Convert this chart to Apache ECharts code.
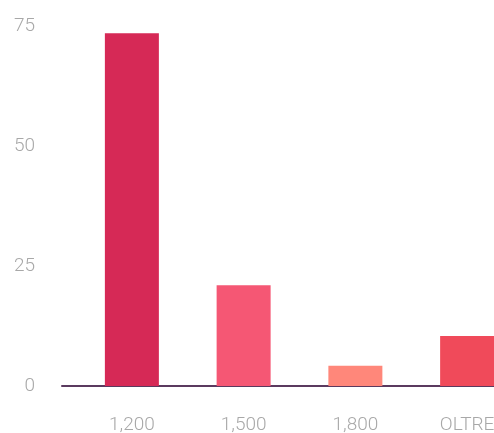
<!DOCTYPE html>
<html>
<head>
<meta charset="utf-8">
<script src="https://cdn.jsdelivr.net/npm/echarts@6/dist/echarts.min.js"></script>
<style>
  html, body { margin: 0; padding: 0; background: #fff; }
  #chart { width: 494px; height: 433px; }
</style>
</head>
<body>
<div id="chart"></div>
<script>
const categories = ['1,200', '1,500', '1,800', 'OLTRE']
const values = [73.5, 21, 4.2, 10.4]
const barColors = ['#d62956', '#f55774', '#ff877a', '#f04a5a']
const yTicks = [0, 25, 50, 75]

const labelFont = {
  color: '#a8a8a8',
  fontFamily: 'Roboto',
  fontWeight: 300,
  fontSize: 19
}

const myChart = echarts.init(document.getElementById('chart'))

const option = {
  animation: false,
  grid: [
    // bars (the last band runs past the right edge, as in the original)
    { left: 76, width: 447, top: 26, bottom: 47, outerBoundsMode: 'none' },
    // baseline only (starts a bit further left than the bars' axis)
    { left: 62, width: 460, top: 26, bottom: 47, outerBoundsMode: 'none' }
  ],
  xAxis: [{
    type: 'category',
    gridIndex: 0,
    data: categories,
    axisLine: { show: false },
    axisTick: { show: false },
    axisLabel: Object.assign({ margin: 30 }, labelFont)
  }, {
    type: 'value',
    gridIndex: 1,
    position: 'bottom',
    axisLine: { show: true, lineStyle: { color: '#5b3a5f', width: 2 } },
    axisTick: { show: false },
    axisLabel: { show: false },
    splitLine: { show: false }
  }],
  yAxis: [{
    type: 'value',
    gridIndex: 0,
    min: 0,
    max: yTicks[yTicks.length - 1],
    interval: 25,
    axisLine: { show: false },
    axisTick: { show: false },
    splitLine: { show: false },
    axisLabel: Object.assign({ margin: 41 }, labelFont)
  }, {
    type: 'value',
    gridIndex: 1,
    min: 0,
    max: 75,
    show: false
  }],
  series: [{
    type: 'bar',
    xAxisIndex: 0,
    yAxisIndex: 0,
    barWidth: 54,
    data: values.map((v, i) => ({ value: v, itemStyle: { color: barColors[i] } }))
  }]
}

myChart.setOption(option)
window.addEventListener('resize', () => {
  myChart.resize()
})
</script>
</body>
</html>
